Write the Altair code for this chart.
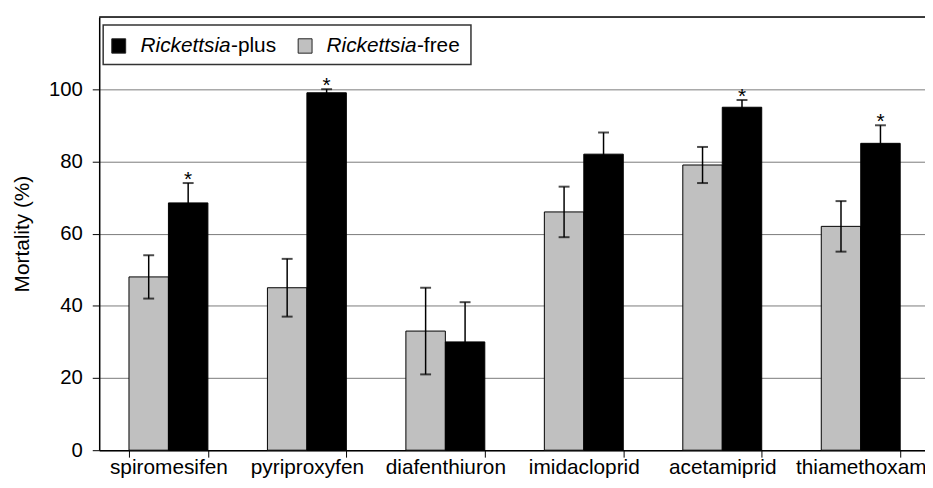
import altair as alt
import pandas as pd

categories = ["spiromesifen", "pyriproxyfen", "diafenthiuron", "imidacloprid", "acetamiprid", "thiamethoxam"]
groups = ["Rickettsia-free", "Rickettsia-plus"]
free_mean = [48, 45, 33, 66, 79, 62]
free_err = [6, 8, 12, 7, 5, 7]
plus_mean = [68.5, 99, 30, 82, 95, 85]
plus_err = [5.5, 1, 11, 6, 2, 5]
plus_sig = [True, True, False, False, True, True]
y_ticks = [0, 20, 40, 60, 80, 100]
legend_italic = ["Rickettsia", "Rickettsia"]
legend_suffix = ["-plus", "-free"]
legend_colors = ["#000000", "#c0c0c0"]

rows = []
for i, c in enumerate(categories):
    rows.append(dict(cat=c, grp=groups[0], mean=free_mean[i],
                     lo=free_mean[i] - free_err[i], hi=free_mean[i] + free_err[i], star=""))
    rows.append(dict(cat=c, grp=groups[1], mean=plus_mean[i],
                     lo=plus_mean[i] - plus_err[i], hi=plus_mean[i] + plus_err[i],
                     star="*" if plus_sig[i] else ""))
df = pd.DataFrame(rows)

FONT = "Liberation Sans"
W, H = 833, 437      # visible plot area (the last band runs past the page edge)
BAND_RANGE = 838

x = alt.X("cat:N", sort=categories,
          scale=alt.Scale(paddingInner=0.43, paddingOuter=0.215, range=[0, BAND_RANGE]),
          axis=alt.Axis(title=None, labelAngle=0, tickBand="extent", labelFontSize=21,
                        labelColor="black", labelPadding=0, tickSize=7, tickColor="black",
                        tickWidth=1, domainColor="black", domainWidth=1.5, grid=False,
                        labelLimit=0, labelFont=FONT))
xo = alt.XOffset("grp:N", scale=alt.Scale(domain=groups, paddingInner=0, paddingOuter=0))
y = alt.Y("mean:Q", scale=alt.Scale(domain=[0, 120], nice=False),
          axis=alt.Axis(values=y_ticks, title="Mortality (%)", titleFontSize=21,
                        titleFontWeight="normal", titleColor="black", titleFont=FONT,
                        titlePadding=16, labelFontSize=20.5, labelColor="black", labelFont=FONT,
                        labelPadding=10, tickSize=7, tickColor="black", domainColor="black",
                        domainWidth=1.5, grid=True, gridColor="#7a7a7a", gridWidth=1))

base = alt.Chart(df)
bars = base.mark_bar(stroke="black", strokeWidth=1).encode(
    x=x, xOffset=xo, y=y,
    color=alt.Color("grp:N", scale=alt.Scale(domain=groups, range=["#c0c0c0", "#000000"]), legend=None))
rules = base.mark_rule(color="black", strokeWidth=1.5).encode(
    x=x, xOffset=xo, y=alt.Y("lo:Q"), y2="hi:Q")
caps_hi = base.mark_tick(color="black", size=11, thickness=2, orient="horizontal").encode(
    x=x, xOffset=xo, y=alt.Y("hi:Q"))
caps_lo = base.mark_tick(color="black", size=11, thickness=2, orient="horizontal").encode(
    x=x, xOffset=xo, y=alt.Y("lo:Q"))
stars = base.transform_filter("datum.star != ''").mark_text(
    fontSize=21, dy=3, baseline="alphabetic", color="black", font=FONT).encode(
    x=x, xOffset=xo, y=alt.Y("hi:Q"), text="star:N")

one = alt.Chart(pd.DataFrame({"k": [0]}))
top_border = one.mark_rule(color="black", strokeWidth=1.5).encode(
    x=alt.value(0), x2=alt.value(BAND_RANGE), y=alt.value(0))
legend_layers = [one.mark_rect(fill="white", stroke="#333333", strokeWidth=1.5).encode(
    x=alt.value(4), x2=alt.value(375), y=alt.value(8), y2=alt.value(48))]
sq_x = [12.7, 200.7]
txt_x = [41.7, 229.3]
for i in range(2):
    legend_layers.append(one.mark_rect(fill=legend_colors[i], stroke="#222222", strokeWidth=1).encode(
        x=alt.value(sq_x[i]), x2=alt.value(sq_x[i] + 14), y=alt.value(22), y2=alt.value(36.5)))
    legend_layers.append(one.mark_text(align="left", baseline="alphabetic", fontSize=21,
                                       fontStyle="italic", font=FONT, color="black").encode(
        x=alt.value(txt_x[i]), y=alt.value(35.7), text=alt.value(legend_italic[i])))
    legend_layers.append(one.mark_text(align="left", baseline="alphabetic", fontSize=21,
                                       font=FONT, color="black").encode(
        x=alt.value(txt_x[i] + 91.2), y=alt.value(35.7), text=alt.value(legend_suffix[i])))

chart = alt.layer(bars, rules, caps_hi, caps_lo, stars, top_border, *legend_layers).properties(
    width=W, height=H,
    autosize=alt.AutoSizeParams(type="none"),
    padding={"left": 92, "top": 7, "right": 0, "bottom": 28},
).configure_view(stroke=None).configure(font=FONT)

chart.save("out.html", embed_options={"renderer": "svg", "actions": False})
